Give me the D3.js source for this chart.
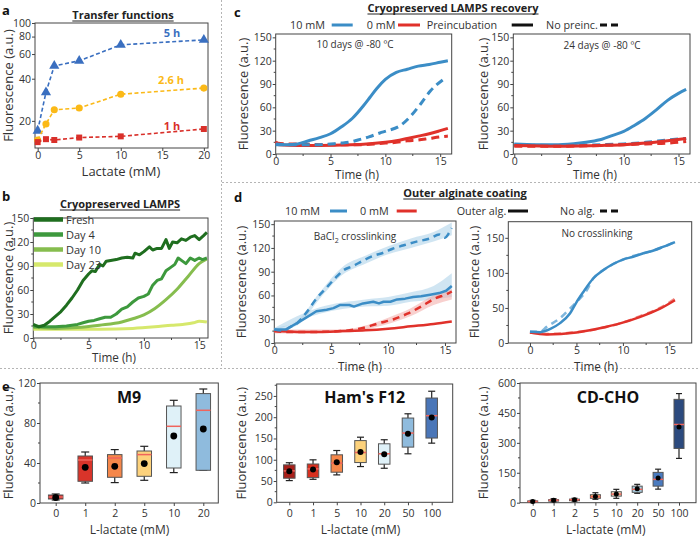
<!DOCTYPE html>
<html><head><meta charset="utf-8">
<script src="https://cdn.jsdelivr.net/npm/d3@7"></script>
<style>body{margin:0;background:#fff}svg{display:block}text{font-family:'Open Sans','Noto Sans',sans-serif}</style>
</head><body><script>
// ---------- DATA ----------
// Panel a: transfer functions
const aLactate = [0, 1, 2, 5, 10, 20];
const a5h  = [17, 32, 49.4, 53.7, 69.8, 75.8];
const a26h = [14.6, 19, 24, 24.7, 31, 34.3];
const a1h  = [14.1, 14.8, 14.6, 15.2, 15.5, 17.5];
const aYTicks = [20, 40, 60, 80, 100];
const aXTicks = [0, 5, 10, 15, 20];

// Panel b: cryopreserved LAMPS [time h, fluorescence]
const bFresh = [[0,17],[0.5,14],[1,16],[1.5,21],[2,27],[2.5,33],[3,41],[3.5,50],[4,60],[4.5,72],[5,80],[5.3,84],[5.6,83],[6,92],[6.3,90],[6.6,96],[7,97],[7.5,98],[8,100],[8.5,101],[9,100],[9.2,106],[9.6,104],[10,108],[10.5,114],[10.8,110],[11.2,112],[11.6,112],[12,123],[12.3,112],[12.6,120],[13,119],[13.4,124],[13.8,122],[14.2,126],[14.6,128],[15,123],[15.4,128],[15.7,132]];
const bDay4 = [[0,15],[1,14],[2,14],[3,15],[4,17],[4.5,19],[5,21],[5.5,22],[6,24],[6.5,26],[7,26],[7.5,30],[8,36],[8.5,39],[9,45],[9.5,50],[10,52],[10.4,55],[10.8,66],[11.2,72],[11.6,74],[12,84],[12.4,88],[12.8,92],[13.1,100],[13.4,97],[13.8,93],[14.2,100],[14.6,97],[15,100],[15.3,98],[15.7,100]];
const bDay10 = [[0,13],[2,12],[4,13],[6,16],[8,20],[9,24],[10,29],[11,37],[12,48],[13,61],[14,77],[15,93],[15.7,99]];
const bDay23 = [[0,11],[3,11],[6,11],[9,12],[11,14],[12.5,16],[13.5,17],[14.5,19],[15,21],[15.7,20]];
const bSeriesNames = ['Fresh', 'Day 4', 'Day 10', 'Day 23'];

// Panel c: recovery (10 days / 24 days)
const cL10pre = [[0,13],[1,12],[2,13],[3,17],[4,21],[5,26],[6,35],[7,46],[8,62],[8.6,73],[9.2,84],[10,96],[11,105],[12,109],[13,113],[14,115],[15,118],[15.7,120]];
const cL10no  = [[0,12],[2,12],[4,12],[5,13],[6,14],[7,16],[7.5,18],[8.5,22],[9.5,27],[10.2,30],[11.3,36],[12.2,47],[13.2,64],[14.1,81],[15.3,96]];
const cL0pre  = [[0,16],[0.3,12],[2,11],[4,11],[6,11.5],[8,12.5],[10,15],[11,17],[12,20],[13,23],[14,26],[15,30],[15.7,33]];
const cL0no   = [[0,14],[1,13],[2,13],[4,12],[6,12],[8,12],[10,14],[11,15],[12,17],[13,18],[14,20],[15,22],[15.7,23]];
const cR10pre = [[0,13],[2,12],[4,12],[6,14],[7,16],[8,19],[9,24],[10,29],[11,37],[12,46],[13,57],[14,69],[15,78],[15.7,83]];
const cR10no  = [[0,12],[4,11],[8,12],[10,13],[12,15],[14,18],[15.7,20]];
const cR0pre  = [[0,11],[4,10],[8,11],[10,12],[12,14],[14,17],[15.7,20]];
const cR0no   = [[0,10],[4,10],[8,11],[10,12],[12,13],[14,14],[15.7,16]];

// Panel d: outer alginate coating
const dL10no   = [[0,17],[0.8,15.5],[1.4,20],[2,25],[2.8,38],[3.7,56],[4.6,70],[5.5,84],[6.1,92],[6.9,97],[7.8,104],[8.7,110],[9.6,114],[10.4,119],[11.3,123],[12.5,128],[13.7,132],[14.5,137],[15,133],[15.4,140],[15.6,145]];
const dL10noBand = [[0,15,19],[2,22,28],[4,56,64],[6,86,96],[8,100,110],[10,112,122],[12,120,132],[14,128,140],[15.6,136,152]];
const dL10alg  = [[0,17],[1,17],[2,25],[2.8,32],[3.7,40],[4.6,42],[5.2,44],[5.8,48],[6.6,48],[7,46],[7.8,50],[8.7,52],[9.2,50],[9.6,52],[10.2,52],[10.8,55],[11.5,56],[12.2,58],[12.9,59],[13.7,61],[14.5,63],[15.1,66],[15.6,72]];
const dL10algBand = [[0,15,19],[4,37,45],[8,46,55],[10,47,58],[12,52,64],[14,55,72],[15.6,58,88]];
const dL0no    = [[0,15],[1,14],[3.4,14],[5.8,15],[7.8,19],[9.2,25],[10.5,30],[11.7,37],[12.9,46],[14.1,56],[15.2,62],[15.6,65]];
const dL0noBand = [[0,12,17],[6,13,17],[8,17,22],[10,24,32],[12,34,44],[14,48,60],[15.6,55,68]];
const dL0alg   = [[0,15],[2,14],[4,14],[6,15],[8,16],[10,18],[12,21],[14,24],[15.6,27]];
const dR10alg  = [[0,16],[1.1,15.5],[2.2,20],[3.2,28],[4.3,42],[5,58],[5.7,72],[6.8,92],[7.9,104],[9,113],[10,119],[11.1,123],[12.2,128],[13.3,132],[14.3,137],[15.6,144]];
const dR10no   = [[0,16],[1.1,16],[1.8,23],[3.2,35],[4.3,49],[5.2,61],[6.1,75],[6.8,92],[7.9,104],[9,113],[10,119],[11.1,124],[12.2,128],[13.3,132],[14.3,137],[15.6,144]];
const dR0alg   = [[0,14.8],[1.8,12],[5,15],[7.5,21],[9.7,28],[11.8,37],[14,49],[15.6,61]];
const dR0no    = [[0,15],[1.8,13],[5,15.5],[7.5,21],[9.7,28],[11.8,38],[14,50],[15.6,63]];

// Panel e: box stats [whiskerLow, q1, median, q3, whiskerHigh, mean]
const m9Cats = ['0','1','2','5','10','20'];
const m9Stats = [[3,4,6,8,9,5.5],[20,21.7,43,47,51,35.7],[20.4,25.7,45,48.4,53.4,36.7],[22.7,26.7,48.4,52,56.7,39.4],[30.4,35,76.7,97,102.7,67],[32.7,32.7,92.7,109.4,114,74]];
const f12Cats = ['0','1','5','10','20','50','100'];
const f12Stats = [[51,56.6,73.8,88,93,73],[54,58,78.5,90,99.8,77],[64.4,70.7,92,111.6,121.7,94],[84,93.4,117,145,153,118],[80,89.6,114,137.5,147,113],[114,129.7,162.7,198,208,161],[139,151,203.5,245,261,199]];
const cdCats = ['0','1','2','5','10','20','50','100'];
const cdStats = [[1,3,6,9,12,6],[5,8,12,15,20,12],[8,10,15,18,22,15],[17,22,30,40,50,31],[22,33,43,55,67,44],[47,52,67,83,92,70],[68,83,117,152,168,124],[222,272,392,518,547,380]];

// ---------- STYLE ----------
const W = 700, H = 537;
const AX = '#444', TXT = '#333';
const BLUE = '#3b8dc6', RED = '#e0312a';
const aColors = {b:'#3a6fc0', o:'#fbb917', r:'#d9302a'};
const bColors = ['#1f6e1f','#3d993d','#86bd4e','#d6e86c'];
const m9Colors = ['#c8282a','#d9342a','#f5874a','#fdd27c','#dff1f8','#8fbbdd'];
const f12Colors = ['#a8201a','#d7301f','#f5874a','#fdd27c','#dff1f8','#8fbbdd','#4a76b8'];
const cdColors = ['#b2182b','#d7301f','#f46d43','#fdae61','#fde8c8','#abd3e6','#4a7bbf','#2c4a7e'];
const LEG = 10.8;

const svg = d3.select('body').append('svg').attr('width', W).attr('height', H);

// separators
const sep = svg.append('g').attr('stroke','#b5b5b5').attr('stroke-dasharray','2,2').attr('stroke-width',1);
sep.append('line').attr('x1',221.5).attr('x2',221.5).attr('y1',0).attr('y2',368);
sep.append('line').attr('x1',222).attr('x2',700).attr('y1',182.5).attr('y2',182.5);
sep.append('line').attr('x1',0).attr('x2',700).attr('y1',368.5).attr('y2',368.5);

function txt(s, x, y, o = {}) {
  const t = svg.append('text').attr('x', x).attr('y', y).text(s)
    .attr('font-size', o.size || 13).attr('fill', o.fill || TXT)
    .attr('text-anchor', o.anchor || 'start')
    .attr('font-weight', o.bold ? 'bold' : 'normal');
  if (o.len) t.attr('textLength', o.len).attr('lengthAdjust', 'spacingAndGlyphs');
  if (o.rotate) t.attr('transform', `rotate(-90,${x},${y})`);
  return t;
}
function title(s, cx, y, size) {
  const t = txt(s, cx, y, {size: size || 11.5, bold: true, anchor: 'middle', fill: '#222'});
  const w = t.node().getComputedTextLength();
  svg.append('line').attr('x1', cx - w/2).attr('x2', cx + w/2).attr('y1', y + 2).attr('y2', y + 2)
    .attr('stroke', '#222').attr('stroke-width', 1);
}
function frame(x, y, box, o) {
  const g = svg.append('g');
  const [L, T, R, B] = box;
  const xa = d3.axisBottom(x).tickSize(3).tickPadding(o.xpad || 1).tickSizeOuter(0);
  if (o.xticks) xa.tickValues(o.xticks);
  if (o.xfmt) xa.tickFormat(o.xfmt);
  const ya = d3.axisLeft(y).tickSize(3).tickPadding(1).tickSizeOuter(0).tickValues(o.yticks).tickFormat(o.yfmt || d3.format('d'));
  const gx = g.append('g').attr('transform', `translate(0,${B})`).call(xa);
  const gy = g.append('g').attr('transform', `translate(${L},0)`).call(ya);
  [gx, gy].forEach(a => {
    a.select('.domain').remove();
    a.selectAll('line').attr('stroke', AX);
    a.selectAll('text').attr('font-size', o.tsize || 10.5).attr('fill', TXT).attr('font-family', "'Open Sans','Noto Sans',sans-serif");
  });
  (o.xminor || []).forEach(v => g.append('line').attr('x1', x(v)).attr('x2', x(v)).attr('y1', B).attr('y2', B + 2).attr('stroke', AX));
  (o.yminor || []).forEach(v => g.append('line').attr('y1', y(v)).attr('y2', y(v)).attr('x1', L).attr('x2', L - 2).attr('stroke', AX));
  g.append('rect').attr('x', L).attr('y', T).attr('width', R - L).attr('height', B - T)
    .attr('fill', 'none').attr('stroke', AX).attr('stroke-width', 1);
}
function path(data, x, y, color, w, dash, curve) {
  svg.append('path').datum(data)
    .attr('d', d3.line().x(d => x(d[0])).y(d => y(d[1])).curve(curve || d3.curveMonotoneX))
    .attr('fill', 'none').attr('stroke', color).attr('stroke-width', w)
    .attr('stroke-dasharray', dash || null).attr('stroke-linejoin', 'round');
}
function band(data, x, y, color) {
  svg.append('path').datum(data)
    .attr('d', d3.area().x(d => x(d[0])).y0(d => y(d[1])).y1(d => y(d[2])).curve(d3.curveMonotoneX))
    .attr('fill', color).attr('opacity', 0.55);
}
function legLine(x1, x2, y, color, dash) {
  svg.append('line').attr('x1', x1).attr('x2', x2).attr('y1', y).attr('y2', y)
    .attr('stroke', color).attr('stroke-width', 3).attr('stroke-dasharray', dash || null);
}
const TIME = {anchor: 'middle', len: 44};

// ---------- PANEL a ----------
{
  const x = d3.scaleLinear().domain([-0.32, 20.5]).range([35, 208]);
  const y = d3.scaleLog().domain([12.8, 100]).range([148, 23]);
  frame(x, y, [35, 23, 208, 148], {xticks: aXTicks, yticks: aYTicks});
  const series = [[a5h, aColors.b, 'tri'], [a26h, aColors.o, 'circ'], [a1h, aColors.r, 'sq']];
  series.forEach(([vals, col, m]) => {
    const pts = aLactate.map((l, i) => [l, vals[i]]);
    path(pts, x, y, col, 1.6, '4,2.5', d3.curveLinear);
    const sym = m === 'tri' ? d3.symbolTriangle : m === 'circ' ? d3.symbolCircle : d3.symbolSquare;
    const size = m === 'tri' ? 45 : m === 'circ' ? 40 : 36;
    svg.append('g').selectAll('path').data(pts).join('path')
      .attr('transform', d => `translate(${x(d[0])},${y(d[1])})`)
      .attr('d', d3.symbol().type(sym).size(size)).attr('fill', col);
  });
  txt('5 h', 172, 37, {size: 11, bold: true, anchor: 'middle', fill: aColors.b});
  txt('2.6 h', 171, 84, {size: 11, bold: true, anchor: 'middle', fill: aColors.o});
  txt('1 h', 172, 130, {size: 11, bold: true, anchor: 'middle', fill: aColors.r});
  title('Transfer functions', 123, 19, 11);
  txt('a', 2, 15, {size: 13, bold: true, fill: '#111'});
  txt('Fluorescence (a.u.)', 13, 85.5, {rotate: true, anchor: 'middle'});
  txt('Lactate (mM)', 121, 176, {anchor: 'middle'});
}

// ---------- PANEL b ----------
{
  const x = d3.scaleLinear().domain([0, 15.8]).range([33.3, 208]);
  const y = d3.scaleLinear().domain([0, 150]).range([338, 218]);
  frame(x, y, [33.3, 218, 208, 338], {xticks: [0,5,10,15], yticks: [0,30,60,90,120,150],
    xminor: [2.5,7.5,12.5], yminor: [15,45,75,105,135]});
  const series = [bFresh, bDay4, bDay10, bDay23];
  [3,2,1,0].forEach(i => path(series[i], x, y, bColors[i], 3, null, i < 2 ? d3.curveLinear : d3.curveMonotoneX));
  bSeriesNames.forEach((n, i) => {
    const ly = 219.5 + i * 15;
    svg.append('line').attr('x1', 34).attr('x2', 63).attr('y1', ly).attr('y2', ly)
      .attr('stroke', bColors[i]).attr('stroke-width', 4.5);
    txt(n, 66, ly + 4, {size: 11});
  });
  title('Cryopreserved LAMPS', 120, 208, 11);
  txt('b', 2, 201, {size: 13, bold: true, fill: '#111'});
  txt('Fluorescence (a.u.)', 13, 278, {rotate: true, anchor: 'middle'});
  txt('Time (h)', 114, 362, TIME);
}

// ---------- PANEL c ----------
{
  const yTicks = [0,30,60,90,120,150], yMinor = [15,45,75,105,135];
  const xL = d3.scaleLinear().domain([0, 16.05]).range([275.7, 451.7]);
  const yL = d3.scaleLinear().domain([0, 154.3]).range([154, 34]);
  frame(xL, yL, [275.7, 34, 451.7, 154], {xticks: [0,5,10,15], yticks: yTicks, xminor: [2.5,7.5,12.5], yminor: yMinor});
  path(cL0no, xL, yL, RED, 3, '8,5');
  path(cL0pre, xL, yL, RED, 3);
  path(cL10no, xL, yL, BLUE, 3, '8,5');
  path(cL10pre, xL, yL, BLUE, 3);
  txt('10 days @ -80 ºC', 355, 48, {size: 10, anchor: 'middle'});

  const xR = d3.scaleLinear().domain([-0.09, 16.05]).range([513.3, 690]);
  frame(xR, yL, [513.3, 34, 690, 154], {xticks: [0,5,10,15], yticks: yTicks, xminor: [2.5,7.5,12.5], yminor: yMinor});
  path(cR10no, xR, yL, BLUE, 3, '8,5');
  path(cR10pre, xR, yL, BLUE, 3);
  path(cR0pre, xR, yL, RED, 3);
  path(cR0no, xR, yL, RED, 3, '8,5');
  txt('24 days @ -80 ºC', 602, 49, {size: 10, anchor: 'middle'});

  // legend
  const ly = 25;
  txt('10 mM', 290, 29, {size: LEG});
  legLine(331.7, 352.7, ly, BLUE);
  txt('0 mM', 366.7, 29, {size: LEG});
  legLine(398, 420, ly, RED);
  txt('Preincubation', 426.7, 29, {size: LEG});
  legLine(511.7, 533, ly, '#111');
  txt('No preinc.', 546, 29, {size: LEG});
  legLine(600, 618, ly, '#111', '7,4');

  title('Cryopreserved LAMPS recovery', 453, 12, 11);
  txt('c', 234, 17, {size: 13, bold: true, fill: '#111'});
  txt('Fluorescence (a.u.)', 248, 94, {rotate: true, anchor: 'middle'});
  txt('Time (h)', 357, 179, TIME);
  txt('Fluorescence (a.u.)', 488, 94, {rotate: true, anchor: 'middle'});
  txt('Time (h)', 595, 179, TIME);
}

// ---------- PANEL d ----------
{
  const xL = d3.scaleLinear().domain([0, 15.97]).range([274.3, 456]);
  const yL = d3.scaleLinear().domain([0, 154]).range([343, 221]);
  frame(xL, yL, [274.3, 221, 456, 343], {xticks: [0,5,10,15], yticks: [0,30,60,90,120,150], xminor: [2.5,7.5,12.5], yminor: [15,45,75,105,135]});
  band(dL10noBand, xL, yL, '#a9cfe8');
  band(dL10algBand, xL, yL, '#a9cfe8');
  band(dL0noBand, xL, yL, '#f2aaa5');
  path(dL0alg, xL, yL, RED, 2.5);
  path(dL0no, xL, yL, RED, 2.5, '7,5');
  path(dL10alg, xL, yL, BLUE, 2.5, null, d3.curveLinear);
  path(dL10no, xL, yL, BLUE, 2.5, '7,5');
  const bt = svg.append('text').attr('x', 355).attr('y', 240).attr('text-anchor', 'middle').attr('font-size', 10).attr('fill', TXT);
  bt.append('tspan').text('BaCl');
  bt.append('tspan').text('2').attr('font-size', 7).attr('dy', 3);
  bt.append('tspan').text(' crosslinking').attr('dy', -3);

  const xR = d3.scaleLinear().domain([-2.33, 17.4]).range([508.3, 691.7]);
  const yR = d3.scaleLinear().domain([0, 173]).range([343, 221.7]);
  frame(xR, yR, [508.3, 221.7, 691.7, 343], {xticks: [0,5,10,15], yticks: [0,50,100,150], xminor: [2.5,7.5,12.5], yminor: [25,75,125]});
  path(dR0no, xR, yR, '#f08a84', 2.5, '7,5');
  path(dR0alg, xR, yR, RED, 2.5);
  path(dR10no, xR, yR, '#7fb6dc', 2.5, '7,5');
  path(dR10alg, xR, yR, BLUE, 2.5);
  txt('No crosslinking', 597, 237, {size: 10, anchor: 'middle'});

  const ly = 211;
  txt('10 mM', 285, 215, {size: LEG});
  legLine(330, 347, ly, BLUE);
  txt('0 mM', 360, 215, {size: LEG});
  legLine(396.7, 416.7, ly, RED);
  txt('Outer alg.', 456.7, 215, {size: LEG});
  legLine(508, 528, ly, '#111');
  txt('No alg.', 560, 215, {size: LEG});
  legLine(600, 618, ly, '#111', '7,4');

  title('Outer alginate coating', 465, 197, 11);
  txt('d', 234, 202, {size: 13, bold: true, fill: '#111'});
  txt('Fluorescence (a.u.)', 246, 282, {rotate: true, anchor: 'middle'});
  txt('Time (h)', 360, 371, TIME);
  txt('Fluorescence (a.u.)', 479, 282, {rotate: true, anchor: 'middle'});
  txt('Time (h)', 596, 371, TIME);
}

// ---------- PANEL e ----------
function boxPanel(cats, stats, colors, box, xr, ydom, yticks, yminor, bw, cw, r, name, ylabX) {
  const [L, T, R, B] = box;
  const x = d3.scalePoint().domain(cats).range(xr);
  const y = d3.scaleLinear().domain(ydom).range([B, T]);
  frame(x, y, box, {yticks, yminor, xpad: 4});
  const g = svg.append('g');
  stats.forEach((s, i) => {
    const cx = x(cats[i]);
    const [lo, q1, med, q3, hi, mean] = s;
    g.append('line').attr('x1', cx).attr('x2', cx).attr('y1', y(lo)).attr('y2', y(hi)).attr('stroke', '#222').attr('stroke-width', 1.2);
    [lo, hi].forEach(v => g.append('line').attr('x1', cx - cw/2).attr('x2', cx + cw/2).attr('y1', y(v)).attr('y2', y(v)).attr('stroke', '#222').attr('stroke-width', 1.2));
    g.append('rect').attr('x', cx - bw/2).attr('y', y(q3)).attr('width', bw).attr('height', Math.max(1, y(q1) - y(q3)))
      .attr('fill', colors[i]).attr('stroke', '#555').attr('stroke-width', 1);
    g.append('line').attr('x1', cx - bw/2).attr('x2', cx + bw/2).attr('y1', y(med)).attr('y2', y(med)).attr('stroke', '#f0645c').attr('stroke-width', 1.5);
    g.append('circle').attr('cx', cx).attr('cy', y(mean)).attr('r', r).attr('fill', '#000');
  });
  txt(name, (L + R) / 2, 403, {size: 16, bold: true, anchor: 'middle', fill: '#111'});
  txt('Fluorescence (a.u.)', ylabX, (T + B) / 2, {rotate: true, anchor: 'middle'});
  txt('L-lactate (mM)', (xr[0] + xr[1]) / 2, 534, {anchor: 'middle', size: 12});
}
boxPanel(m9Cats, m9Stats, m9Colors, [40, 383, 218.3, 503], [55.7, 203.3], [0, 120], [0,40,80,120], [20,60,100], 14.5, 8, 3.4, 'M9', 13);
boxPanel(f12Cats, f12Stats, f12Colors, [276.7, 384, 452.7, 502.3], [289.3, 431.7], [0, 278], [0,50,100,150,200,250], [25,75,125,175,225,275], 11.5, 7, 3, "Ham's F12", 246);
boxPanel(cdCats, cdStats, cdColors, [520, 383, 696, 502.7], [532.7, 679], [0, 600], [0,150,300,450,600], [75,225,375,525], 10, 6, 2.5, 'CD-CHO', 488);
txt('e', 2, 391, {size: 13, bold: true, fill: '#111'});
</script></body></html>
